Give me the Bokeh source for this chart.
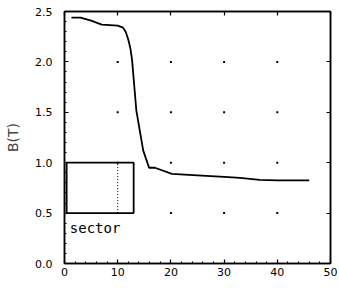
from bokeh.plotting import figure
from bokeh.models import Range1d, FixedTicker, LinearAxis, Label
from bokeh.embed import file_html
from bokeh.resources import INLINE

# data
phi = [1.3, 3, 5, 7, 10, 11, 11.5, 12, 12.4, 12.7, 13.5, 14.8, 15.9, 17, 20.2, 25, 30, 33, 36.7, 40, 46]
B = [2.44, 2.44, 2.41, 2.37, 2.36, 2.34, 2.30, 2.22, 2.13, 2.02, 1.52, 1.12, 0.95, 0.95, 0.89, 0.875, 0.86, 0.85, 0.83, 0.825, 0.825]

x_ticks = [0, 10, 20, 30, 40, 50]
y_ticks = [0.0, 0.5, 1.0, 1.5, 2.0, 2.5]
y_tick_labels = {0.0: "0.0", 0.5: "0.5", 1.0: "1.0", 1.5: "1.5", 2.0: "2.0", 2.5: "2.5"}
x_minor = [2, 4, 6, 8, 12, 14, 16, 18, 22, 24, 26, 28, 32, 34, 36, 38, 42, 44, 46, 48]
y_minor = [0.1, 0.2, 0.3, 0.4, 0.6, 0.7, 0.8, 0.9, 1.1, 1.2, 1.3, 1.4, 1.6, 1.7, 1.8, 1.9, 2.1, 2.2, 2.3, 2.4]
grid_x = [10, 20, 30, 40]
grid_y = [0.5, 1.0, 1.5, 2.0]

sector_x = [0.4, 13, 13, 0.4, 0.4]
sector_y = [0.5, 0.5, 1.0, 1.0, 0.5]
sector_div_x = [10, 10]
sector_div_y = [0.5, 1.0]

FONT = "DejaVu Sans"

p = figure(width=339, height=307, output_backend="svg", toolbar_location=None,
           x_range=Range1d(0, 50), y_range=Range1d(0, 2.5),
           min_border_left=64, min_border_right=9, min_border_top=11, min_border_bottom=44)
p.xgrid.visible = False
p.ygrid.visible = False
p.outline_line_color = "black"
p.outline_line_width = 1.5
p.background_fill_color = "white"
p.border_fill_color = "white"

def style_axis(ax):
    ax.axis_line_width = 1.5
    ax.axis_line_color = "black"
    ax.major_tick_in = 4
    ax.major_tick_out = 0
    ax.minor_tick_in = 2
    ax.minor_tick_out = 0
    ax.major_tick_line_width = 1.2
    ax.minor_tick_line_width = 1
    ax.major_label_text_font = FONT
    ax.major_label_text_font_size = "11px"
    ax.major_label_text_color = "black"

p.xaxis.ticker = FixedTicker(ticks=x_ticks, minor_ticks=x_minor)
p.yaxis.ticker = FixedTicker(ticks=y_ticks, minor_ticks=y_minor)
p.yaxis.major_label_overrides = y_tick_labels
style_axis(p.xaxis[0])
style_axis(p.yaxis[0])
p.xaxis.major_label_standoff = 4
p.yaxis.major_label_standoff = 12

p.yaxis.axis_label = "B(T)"
p.yaxis.axis_label_text_font = FONT
p.yaxis.axis_label_text_font_size = "14px"
p.yaxis.axis_label_text_font_style = "normal"
p.yaxis.axis_label_standoff = 11

# top / right frame axes: ticks only (as minor ticks, so no labels are drawn)
for loc, tks in (("above", x_ticks), ("right", y_ticks)):
    ax = LinearAxis(ticker=FixedTicker(ticks=[], minor_ticks=tks))
    ax.axis_line_width = 1.5
    ax.major_tick_in = 0
    ax.major_tick_out = 0
    ax.minor_tick_in = 4
    ax.minor_tick_out = 0
    ax.minor_tick_line_width = 1.2
    p.add_layout(ax, loc)

# grid dots
gx = [x for x in grid_x for _ in grid_y]
gy = [y for _ in grid_x for y in grid_y]
p.scatter(gx, gy, marker="square", size=2, color="black", line_width=0)

# sector box
p.line(sector_x, sector_y, line_color="black", line_width=1.8)
p.line(sector_div_x, sector_div_y, line_color="black", line_width=1, line_dash="1 2")
p.add_layout(Label(x=1.0, y=0.355, text="sector", text_font="DejaVu Sans Mono",
                   text_font_size="14px", text_baseline="middle", text_color="black"))

# curve
p.line(phi, B, line_color="black", line_width=1.8)

# x axis label
p.add_layout(Label(x=28.6, y=-0.335, text="φ(deg.)", text_font=FONT, text_font_size="11px",
                   text_align="center", text_baseline="middle", text_color="black"))

open("out.html", "w").write(file_html(p, INLINE))
